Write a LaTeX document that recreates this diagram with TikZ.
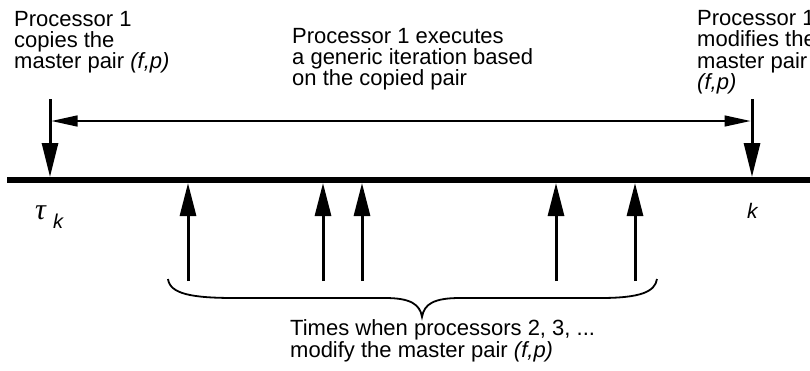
\documentclass[tikz,border=0pt]{standalone}
\usepackage{fontspec}
\setmainfont{Liberation Sans}
\newfontfamily\greekfont{Liberation Serif}
\usetikzlibrary{arrows.meta}
\begin{document}
\begin{tikzpicture}[x=1pt,y=-1pt,
  txt/.style={anchor=base west,inner sep=0pt,align=left,font=\fontsize{22}{21.3}\selectfont},
  axis/.style={line width=6pt},
  downarr/.style={line width=3pt,-{Triangle[length=34pt,width=16pt]}},
  uparr/.style={line width=3pt,-{Triangle[length=33pt,width=16pt]}},
  span/.style={line width=1.4pt,{Triangle[length=26pt,width=11pt]}-{Triangle[length=26pt,width=11pt]}},
  bracestyle/.style={line width=1.8pt}]
\useasboundingbox (0,0) rectangle (810,370);
\clip (0,0) rectangle (810,370);
% texts (base anchor = last line)
\node[txt] (t1) at (14,68.6) {Processor 1\\copies the\\master pair \textit{(f,p)}};
\node[txt] (t2) at (292,85.6) {Processor 1 executes\\a generic iteration based\\on the copied pair};
\node[txt] (t3) at (697,89.5) {Processor 1\\modifies the\\master pair\\\textit{(f,p)}};
\node[txt] (t4) at (290,357) {Times when processors 2, 3, ...\\modify the master pair \textit{(f,p)}};
\node[inner sep=0pt,anchor=base west,font=\fontsize{30}{30}\selectfont\greekfont\itshape] (tau) at (35,219) {τ};
\node[inner sep=0pt,anchor=base west,font=\fontsize{20}{20}\selectfont\itshape] (ksub) at (53,228) {k};
\node[inner sep=0pt,anchor=base west,font=\fontsize{21}{21}\selectfont\itshape] (k) at (747,218) {k};
% axis
\coordinate (a0) at (7,180);
\coordinate (a1) at (810,180);
\draw[axis] (a0) -- (a1);
% processor 1 arrows
\coordinate (s0) at (50,99);
\coordinate (s1) at (50,177);
\coordinate (e0) at (752,99);
\coordinate (e1) at (752,177);
\draw[downarr] (s0) -- (s1);
\draw[downarr] (e0) -- (e1);
\coordinate (h0) at (51.5,121);
\coordinate (h1) at (750.5,121);
\draw[span] (h0) -- (h1);
% other processors
\foreach \x/\n in {188/u1,323/u2,362/u3,556/u4,635/u5}{
  \coordinate (\n b) at (\x,281);
  \coordinate (\n t) at (\x,183);
  \draw[uparr] (\n b) -- (\n t);
}
% brace
\coordinate (b0) at (168,279);
\coordinate (bm) at (422,317);
\coordinate (b1) at (657,279);
\draw[bracestyle] (b0) .. controls (170,294) and (192,298) .. (235,298)
  -- (385,298) .. controls (410,298) and (420,304) .. (bm)
  .. controls (424,304) and (434,298) .. (460,298)
  -- (600,298) .. controls (640,298) and (655,292) .. (b1);
\end{tikzpicture}
\end{document}
